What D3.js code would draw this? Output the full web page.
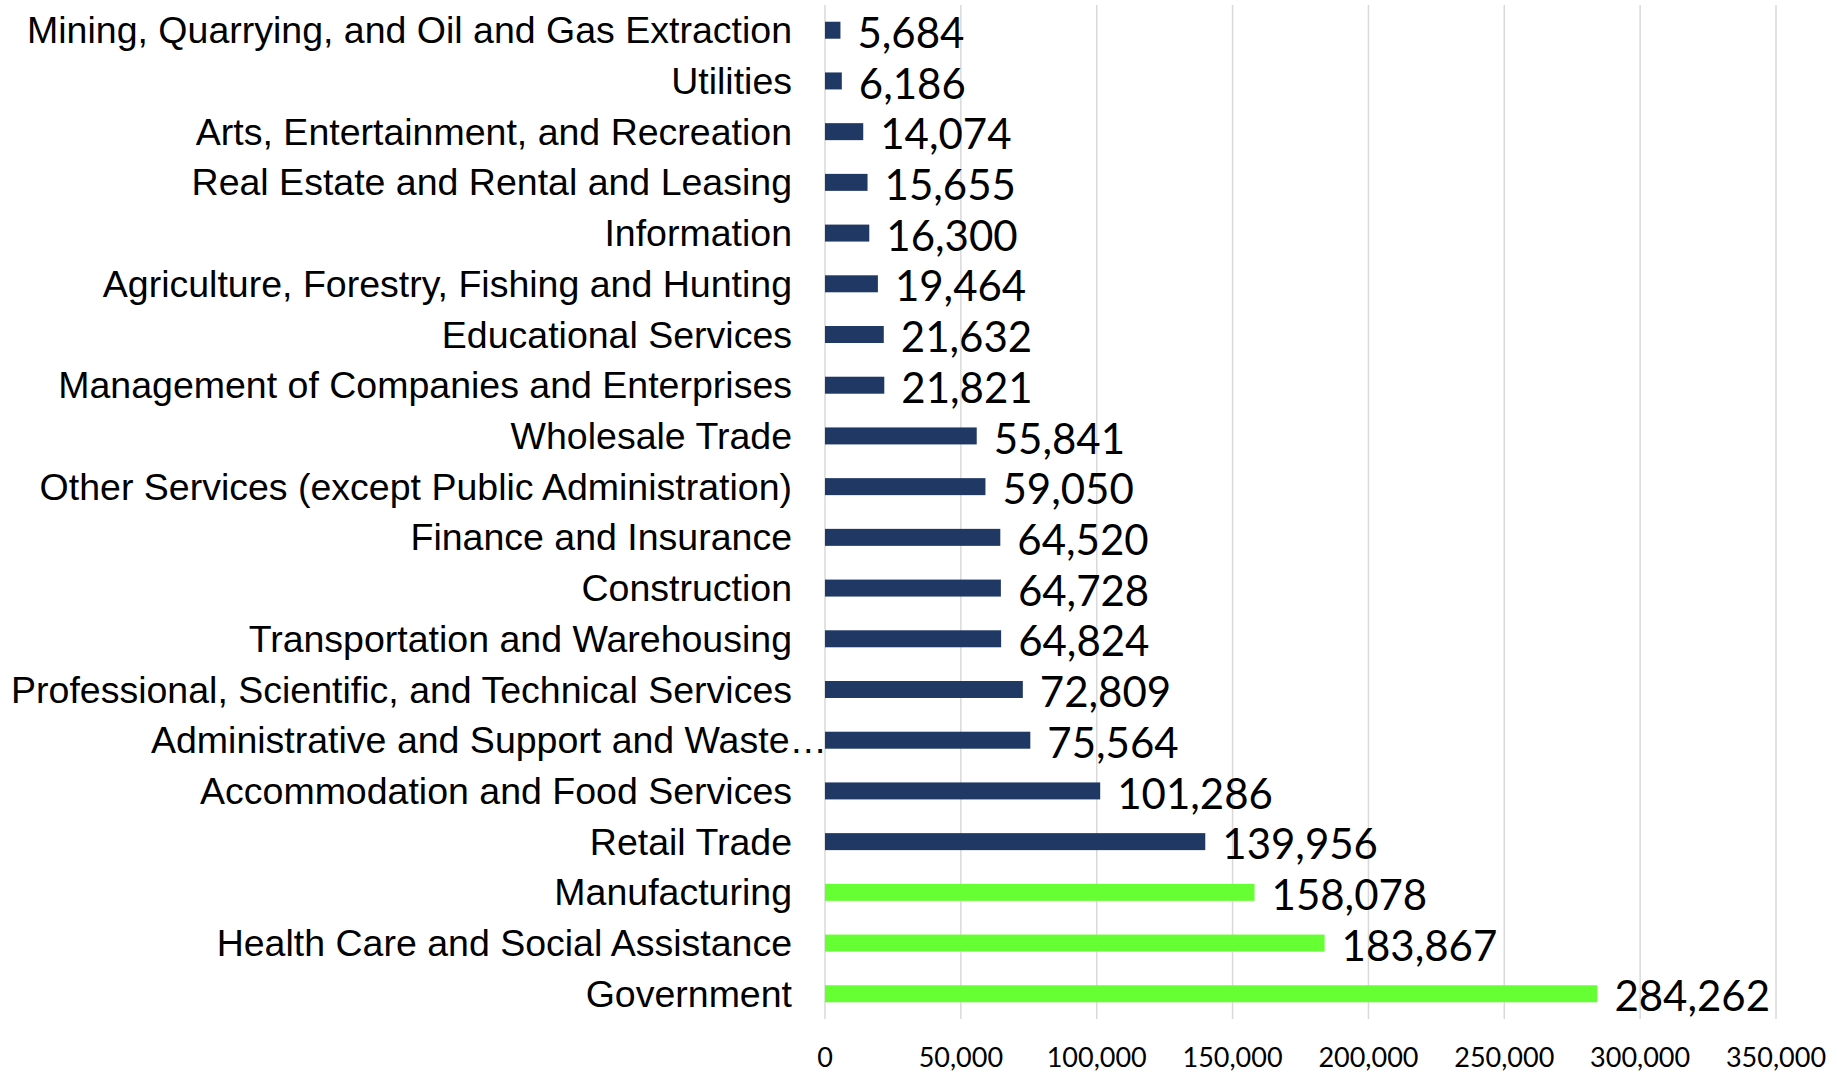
<!DOCTYPE html>
<html>
<head>
<meta charset="utf-8">
<script src="https://cdn.jsdelivr.net/npm/d3@7"></script>
<style>
  body { margin: 0; background: #fff; }
</style>
</head>
<body>
<div id="chart"></div>
<script>
// Industries, top to bottom as drawn
var industries = [
    "Mining, Quarrying, and Oil and Gas Extraction",
    "Utilities",
    "Arts, Entertainment, and Recreation",
    "Real Estate and Rental and Leasing",
    "Information",
    "Agriculture, Forestry, Fishing and Hunting",
    "Educational Services",
    "Management of Companies and Enterprises",
    "Wholesale Trade",
    "Other Services (except Public Administration)",
    "Finance and Insurance",
    "Construction",
    "Transportation and Warehousing",
    "Professional, Scientific, and Technical Services",
    "Administrative and Support and Waste\u2026",
    "Accommodation and Food Services",
    "Retail Trade",
    "Manufacturing",
    "Health Care and Social Assistance",
    "Government"
];
var employment = [5684, 6186, 14074, 15655, 16300, 19464, 21632, 21821, 55841, 59050,
    64520, 64728, 64824, 72809, 75564, 101286, 139956, 158078, 183867, 284262];
// the three largest are highlighted
var highlighted = ["Manufacturing", "Health Care and Social Assistance", "Government"];
var xTicks = [0, 50000, 100000, 150000, 200000, 250000, 300000, 350000];

var navy = "#203864", green = "#66ff33";

var width = 1837, height = 1075;
var plot = { left: 825, right: 1776, top: 5, bottom: 1019 };

var data = industries.map(function (d, i) { return { name: d, value: employment[i] }; });

var svg = d3.select("#chart").append("svg")
    .attr("width", width)
    .attr("height", height);

var x = d3.scaleLinear().domain([0, 350000]).range([plot.left, plot.right]);
var y = d3.scaleBand().domain(industries).range([plot.top, plot.bottom]).paddingInner(0.665).paddingOuter(0.33);

// vertical gridlines
svg.selectAll(".grid")
    .data(xTicks)
    .enter().append("line")
    .attr("x1", function (d) { return x(d); })
    .attr("x2", function (d) { return x(d); })
    .attr("y1", plot.top)
    .attr("y2", plot.bottom)
    .attr("stroke", "#d9d9d9")
    .attr("stroke-width", 1.5);

// tick labels along the bottom
svg.selectAll(".tick")
    .data(xTicks)
    .enter().append("text")
    .attr("x", function (d) { return x(d); })
    .attr("y", 1067)
    .attr("text-anchor", "middle")
    .style("font-family", "Lato, sans-serif")
    .style("font-size", "27px")
    .attr("fill", "#000")
    .text(function (d) { return d3.format(",")(d); });

// bars
svg.selectAll(".bar")
    .data(data)
    .enter().append("rect")
    .attr("x", x(0))
    .attr("y", function (d) { return y(d.name); })
    .attr("width", function (d) { return x(d.value) - x(0); })
    .attr("height", y.bandwidth())
    .attr("fill", function (d) { return highlighted.indexOf(d.name) >= 0 ? green : navy; });

// category labels (the truncated one runs up to the axis, as in the original)
svg.selectAll(".cat")
    .data(data)
    .enter().append("text")
    .attr("x", function (d) { return /\u2026$/.test(d.name) ? 827 : 792; })
    .attr("y", function (d) { return y(d.name) + y.bandwidth() / 2; })
    .attr("dy", "0.35em")
    .attr("text-anchor", "end")
    .style("font-family", "'Liberation Sans', Arial, sans-serif")
    .style("font-size", "37.5px")
    .attr("fill", "#000")
    .text(function (d) { return d.name; });

// value labels
svg.selectAll(".val")
    .data(data)
    .enter().append("text")
    .attr("x", function (d) { return x(d.value) + 17; })
    .attr("y", function (d) { return y(d.name) + y.bandwidth() / 2; })
    .attr("dy", "0.42em")
    .style("font-family", "Lato, sans-serif")
    .style("font-size", "42px")
    .attr("fill", "#000")
    .text(function (d) { return d3.format(",")(d.value); });
</script>
</body>
</html>
